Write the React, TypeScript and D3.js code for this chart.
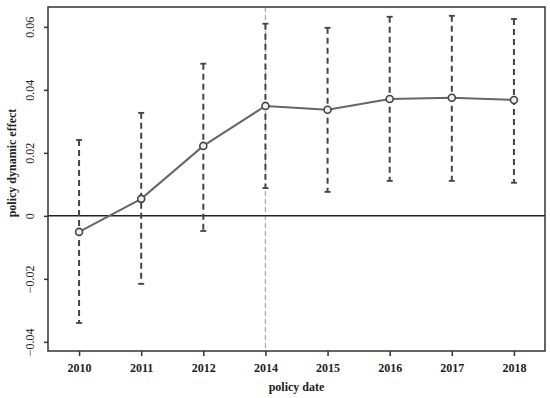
import React, { useEffect, useRef } from "react";
import * as d3 from "d3";

// policy years and estimated effects with 95% CI
const years = ["2010", "2011", "2012", "2014", "2015", "2016", "2017", "2018"];
const estimates = [-0.0051, 0.0054, 0.0222, 0.0349, 0.0337, 0.0371, 0.0375, 0.0368];
const upperCI = [0.0241, 0.0327, 0.0483, 0.061, 0.0597, 0.0632, 0.0635, 0.0625];
const lowerCI = [-0.034, -0.0216, -0.0048, 0.0088, 0.0076, 0.0111, 0.0111, 0.0105];
const yTicks = [-0.04, -0.02, 0, 0.02, 0.04, 0.06];
const policyYear = "2014";

const W = 550;
const H = 398;

const App = () => {
  const svgRef = useRef<SVGSVGElement>(null);

  useEffect(() => {
    const svg = d3.select(svgRef.current);
    svg.selectAll("*").remove();

    const left = 48;
    const right = 545;
    const top = 7;
    const bottom = 351;

    const x = d3.scalePoint().domain(years).range([left, right]).padding(0.5);
    const y = d3.scaleLinear().domain([-0.0429, 0.0663]).range([bottom, top]);

    const serif = "'Liberation Serif', 'Times New Roman', serif";

    // policy year marker
    svg
      .append("line")
      .attr("x1", x(policyYear)!)
      .attr("x2", x(policyYear)!)
      .attr("y1", top)
      .attr("y2", bottom)
      .attr("stroke", "#aaa")
      .attr("stroke-width", 1.2)
      .attr("stroke-dasharray", "5 3");

    // zero line
    svg
      .append("line")
      .attr("x1", left)
      .attr("x2", right)
      .attr("y1", y(0))
      .attr("y2", y(0))
      .attr("stroke", "#222")
      .attr("stroke-width", 1.5);

    // error bars
    const bars = svg
      .append("g")
      .selectAll("g")
      .data(years)
      .enter()
      .append("g");

    bars
      .append("line")
      .attr("x1", (d) => x(d)!)
      .attr("x2", (d) => x(d)!)
      .attr("y1", (d, i) => y(upperCI[i]))
      .attr("y2", (d, i) => y(lowerCI[i]))
      .attr("stroke", "#444")
      .attr("stroke-width", 2)
      .attr("stroke-dasharray", "6 4");

    [upperCI, lowerCI].forEach((arr) => {
      bars
        .append("line")
        .attr("x1", (d) => x(d)! - 3)
        .attr("x2", (d) => x(d)! + 3)
        .attr("y1", (d, i) => y(arr[i]))
        .attr("y2", (d, i) => y(arr[i]))
        .attr("stroke", "#444")
        .attr("stroke-width", 1.8);
    });

    // estimate line
    const line = d3
      .line<number>()
      .x((d, i) => x(years[i])!)
      .y((d) => y(d));

    svg
      .append("path")
      .datum(estimates)
      .attr("d", line)
      .attr("fill", "none")
      .attr("stroke", "#666")
      .attr("stroke-width", 2);

    svg
      .append("g")
      .selectAll("circle")
      .data(estimates)
      .enter()
      .append("circle")
      .attr("cx", (d, i) => x(years[i])!)
      .attr("cy", (d) => y(d))
      .attr("r", 3.5)
      .attr("fill", "#eee")
      .attr("stroke", "#444")
      .attr("stroke-width", 1.6);

    // frame
    svg
      .append("rect")
      .attr("x", left)
      .attr("y", top)
      .attr("width", right - left)
      .attr("height", bottom - top)
      .attr("fill", "none")
      .attr("stroke", "#333")
      .attr("stroke-width", 1.5);

    // axes
    const xAxis = d3.axisBottom(x).tickSize(5).tickPadding(7);
    const gx = svg
      .append("g")
      .attr("transform", `translate(0, ${bottom})`)
      .call(xAxis);
    gx.select(".domain").remove();
    gx.selectAll(".tick line").attr("stroke", "#333").attr("stroke-width", 1.5);
    gx.selectAll("text")
      .attr("fill", "#222")
      .attr("font-family", serif)
      .attr("font-weight", "bold")
      .attr("font-size", "12px");

    const yAxis = d3
      .axisLeft(y)
      .tickValues(yTicks)
      .tickSize(4)
      .tickFormat((d) => (d === 0 ? "0" : d3.format(".2f")(d as number).replace("-", "\u2212")));
    const gy = svg
      .append("g")
      .attr("transform", `translate(${left}, 0)`)
      .call(yAxis);
    gy.select(".domain").remove();
    gy.selectAll(".tick line").attr("stroke", "#333").attr("stroke-width", 1.5);
    gy.selectAll("text")
      .attr("fill", "#222")
      .attr("font-family", serif)
      .attr("font-size", "12px")
      .attr("x", null)
      .attr("dy", null)
      .attr("text-anchor", "middle")
      .attr("transform", "translate(-14, 0) rotate(-90)");

    // axis titles
    svg
      .append("text")
      .attr("x", (left + right) / 2)
      .attr("y", 391)
      .attr("text-anchor", "middle")
      .attr("font-family", serif)
      .attr("font-weight", "bold")
      .attr("font-size", "12px")
      .attr("fill", "#222")
      .text("policy date");

    svg
      .append("text")
      .attr("transform", `translate(16, 163) rotate(-90)`)
      .attr("text-anchor", "middle")
      .attr("font-family", serif)
      .attr("font-weight", "bold")
      .attr("font-size", "12px")
      .attr("fill", "#222")
      .text("policy dynamic effect");
  }, []);

  return (
    <div style={{ position: "absolute", left: 0, top: 0, width: W, height: H, background: "#fff" }}>
      <svg ref={svgRef} width={W} height={H}></svg>
    </div>
  );
};

export default App;
